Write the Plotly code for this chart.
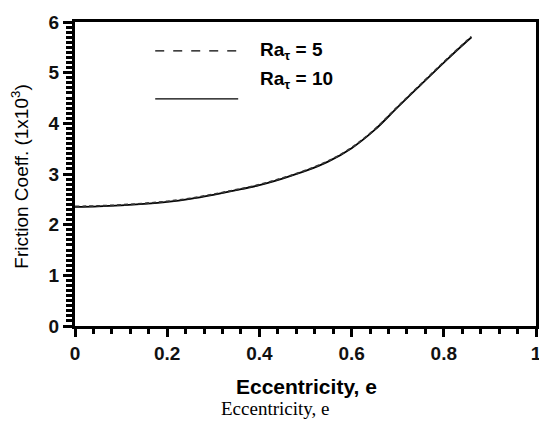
import plotly.graph_objects as go

ecc = [0, 0.05, 0.1, 0.15, 0.2, 0.25, 0.3, 0.35, 0.4, 0.45, 0.5, 0.55, 0.6, 0.65, 0.7, 0.75, 0.8, 0.85, 0.86]
fric_ra5 = [2.36, 2.37, 2.39, 2.42, 2.46, 2.52, 2.60, 2.69, 2.79, 2.92, 3.07, 3.26, 3.52, 3.88, 4.33, 4.77, 5.21, 5.63, 5.71]
fric_ra10 = [2.35, 2.36, 2.38, 2.41, 2.45, 2.51, 2.59, 2.68, 2.78, 2.91, 3.06, 3.25, 3.51, 3.87, 4.32, 4.76, 5.20, 5.62, 5.70]
legend_labels = ["<b>Ra<sub>τ</sub> = 5</b>", "<b>Ra<sub>τ</sub> = 10</b>"]
x_ticks = [0, 0.2, 0.4, 0.6, 0.8, 1]
x_tick_text = ["0", "0.2", "0.4", "0.6", "0.8", "1"]
y_ticks = [0, 1, 2, 3, 4, 5, 6]

fig = go.Figure()
fig.add_trace(go.Scatter(x=ecc, y=fric_ra10, mode="lines", line=dict(color="black", width=1.8),
                         name="Ra10", line_shape="spline", showlegend=False))
fig.add_trace(go.Scatter(x=ecc, y=fric_ra5, mode="lines", line=dict(color="#333", width=1.8, dash="4px,3px"),
                         name="Ra5", line_shape="spline", showlegend=False))

SANS = "Liberation Sans, Arial"

# custom legend (line samples + labels), paper coordinates
line_y = [0.905, 0.747]
text_y = [0.905, 0.81]
dashes = ["dash", "solid"]
for i, lab in enumerate(legend_labels):
    fig.add_shape(type="line", xref="paper", yref="paper", x0=0.174, x1=0.354, y0=line_y[i], y1=line_y[i],
                  line=dict(color="black", width=1.3, dash=dashes[i]))
    fig.add_annotation(xref="paper", yref="paper", x=0.397, y=text_y[i], text=lab,
                       showarrow=False, xanchor="left", yanchor="middle",
                       font=dict(family=SANS, size=19, color="black"))

# axis titles
fig.add_annotation(xref="paper", yref="paper", x=0.503, y=-0.2, text="<b>Eccentricity, e</b>", showarrow=False,
                   xanchor="center", yanchor="middle", font=dict(family=SANS, size=21, color="black"))
fig.add_annotation(xref="paper", yref="paper", x=-0.12, y=0.49, text="Friction Coeff. (1x10<sup>3</sup>)",
                   showarrow=False, textangle=-90, xanchor="center", yanchor="middle",
                   font=dict(family=SANS, size=19, color="black"))
fig.add_annotation(xref="paper", yref="paper", x=0.434, y=-0.272, text="Eccentricity, e", showarrow=False,
                   xanchor="center", yanchor="middle",
                   font=dict(family="Liberation Serif, Times New Roman", size=19, color="black"))

fig.update_layout(
    width=539, height=427,
    margin=dict(l=75, r=3, t=22, b=101),
    paper_bgcolor="white", plot_bgcolor="white",
    xaxis=dict(range=[0, 1], tickvals=x_ticks, ticktext=x_tick_text, ticks="outside", ticklen=8, tickwidth=3,
               tickcolor="black", showline=True, linecolor="black", linewidth=3, mirror=True, showgrid=False,
               zeroline=False, automargin=False, ticklabeloverflow="allow",
               minor=dict(dtick=0.04, ticks="outside", ticklen=5, tickwidth=2.5, tickcolor="black", showgrid=False),
               tickfont=dict(family=SANS, size=19, color="#111", weight="bold")),
    yaxis=dict(range=[0, 6], tickvals=y_ticks, ticks="outside", ticklen=9, tickwidth=3, tickcolor="black",
               showline=True, linecolor="black", linewidth=3, mirror=True, showgrid=False, zeroline=False,
               automargin=False, ticklabeloverflow="allow",
               minor=dict(dtick=0.1, ticks="outside", ticklen=6, tickwidth=2.5, tickcolor="black", showgrid=False),
               tickfont=dict(family=SANS, size=19, color="#111", weight="bold")),
)

fig.write_html("out.html")
